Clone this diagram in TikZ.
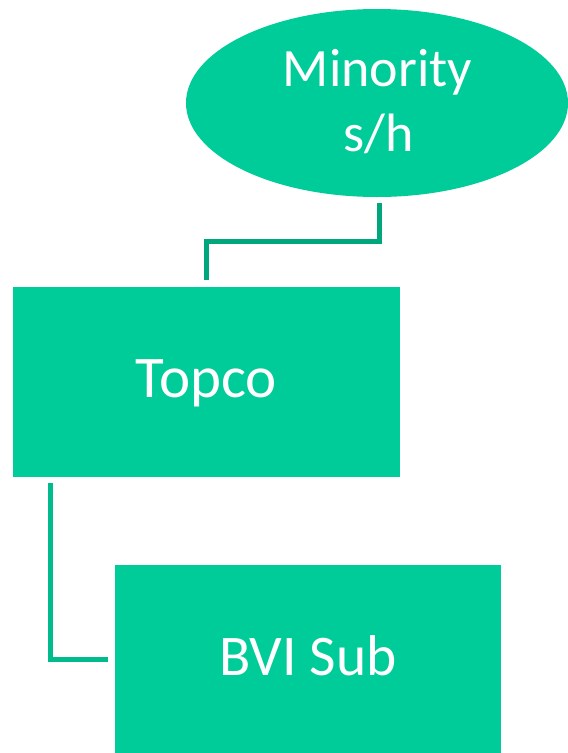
\documentclass[tikz,border=0pt]{standalone}
\usepackage{fontspec}
\setmainfont{Carlito}
\usetikzlibrary{shapes.geometric}
\definecolor{boxgreen}{HTML}{00CC99}
\definecolor{linkdark}{HTML}{00A67C}
\definecolor{linkmid}{HTML}{00BC8C}
\tikzset{
  entity/.style={fill=boxgreen, draw=none, inner sep=0pt},
  label/.style={text=white, anchor=base, inner sep=0pt},
  link/.style={line width=5pt},
}
\begin{document}
\begin{tikzpicture}[x=1pt,y=-1pt]
  \useasboundingbox (0,0) rectangle (568,753);
  % shareholder ellipse
  \node[entity, ellipse, minimum width=382pt, minimum height=188pt] (minority) at (377,103) {};
  \node[label, font=\fontsize{54}{65}\selectfont] (minorityline1) at (377.5,86.7) {Minority};
  \node[label, font=\fontsize{54}{65}\selectfont] (minorityline2) at (379,151.7) {s/h};
  % Topco box
  \node[entity, rectangle, minimum width=387pt, minimum height=190pt] (topco) at (206.5,381.5) {};
  \node[label, font=\fontsize{59}{70}\selectfont] (topcotext) at (206.5,397.3) {Topco};
  % BVI subsidiary box
  \node[entity, rectangle, minimum width=386pt, minimum height=190pt] (bvi) at (307.5,660) {};
  \node[label, font=\fontsize{57.5}{69}\selectfont] (bvitext) at (308,675) {BVI Sub};
  % connectors
  \coordinate (a1) at (379.5,203);
  \coordinate (a2) at (206.5,280);
  \draw[link, draw=linkdark] (a1) -- (379.5,241) -- (206.5,241) -- (a2);
  \coordinate (b1) at (50,483);
  \coordinate (b2) at (108,659);
  \draw[link, draw=linkmid] (b1) -- (50,659) -- (b2);
\end{tikzpicture}
\end{document}
